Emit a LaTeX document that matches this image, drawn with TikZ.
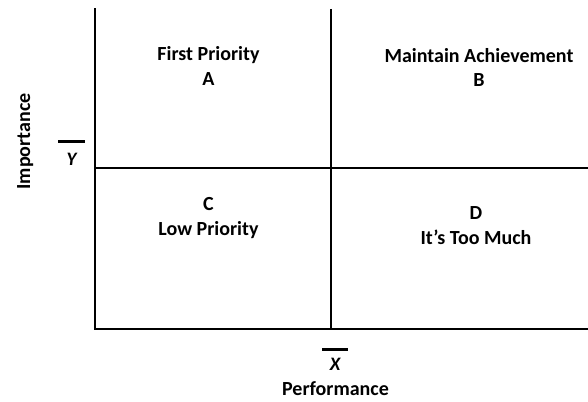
\documentclass[tikz,border=0pt]{standalone}
\usepackage{fontspec}
\setmainfont{Carlito}
\begin{document}
\begin{tikzpicture}[x=1pt,y=-1pt,
  axisline/.style={line width=2pt,black},
  meanbar/.style={line width=3pt,black},
  label/.style={font=\fontsize{20}{24}\selectfont\bfseries,inner sep=0pt,anchor=base},
  meanlabel/.style={font=\fontsize{19}{24}\selectfont\bfseries\itshape,inner sep=0pt,anchor=base}]
  \useasboundingbox (0,0) rectangle (588,401);

  % grid corners and axis ends
  \coordinate (lefttop) at (94.5,9);
  \coordinate (leftbot) at (94.5,329);
  \coordinate (rightbot) at (588,329);
  \coordinate (midtop) at (331,9);
  \coordinate (midbot) at (331,329);
  \coordinate (midleft) at (94.5,167.5);
  \coordinate (midright) at (588,167.5);

  % axes and quadrant dividers
  \draw[axisline,line cap=rect] (lefttop) -- (leftbot) -- (rightbot);
  \draw[axisline] (midtop) -- (midbot);
  \draw[axisline] (midleft) -- (midright);

  % quadrant labels
  \node[label] (qatitle) at (208.5,61) {First Priority};
  \node[label] (qa) at (208.5,85) {A};
  \node[label] (qbtitle) at (479,63) {Maintain Achievement};
  \node[label] (qb) at (479,87) {B};
  \node[label] (qc) at (208.5,210) {C};
  \node[label] (qctitle) at (208.5,235) {Low Priority};
  \node[label] (qd) at (476,219) {D};
  \node[label] (qdtitle) at (476,244) {It’s Too Much};

  % mean markers
  \coordinate (ybarl) at (58,141);
  \coordinate (ybarr) at (85,141);
  \draw[meanbar] (ybarl) -- (ybarr);
  \node[meanlabel] (ymean) at (71.5,165) {Y};
  \coordinate (xbarl) at (322,349);
  \coordinate (xbarr) at (348,349);
  \draw[meanbar] (xbarl) -- (xbarr);
  \node[meanlabel] (xmean) at (335,370) {X};

  % axis titles
  \node[label] (xtitle) at (335.5,395) {Performance};
  \node[label,rotate=90] (ytitle) at (30,141.5) {Importance};
\end{tikzpicture}
\end{document}
